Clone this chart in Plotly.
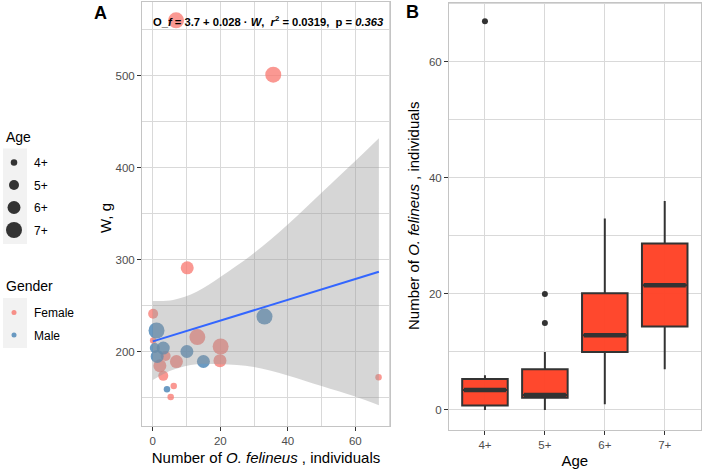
import plotly.graph_objects as go

# ---------------- data (panel A) ----------------
female_x = [0.1, 0.1, 3.8, 2.1, 7.0, 3.1, 13.2, 19.9, 20.1, 6.2, 5.3, 66.9, 6.9, 35.7, 10.2]
female_w = [241, 212, 195, 184.5, 189, 173.5, 215.7, 190, 205.4, 162.5, 150.4, 172, 560, 501, 291]
female_age = ["5+", "4+", "5+", "6+", "6+", "5+", "7+", "6+", "7+", "4+", "4+", "4+", "7+", "7+", "6+"]

male_x = [1.1, 0.6, 3.1, 1.3, 10.1, 15.0, 4.2, 33.1]
male_w = [222.8, 203.7, 203.7, 194.6, 200, 189.1, 159, 238]
male_age = ["7+", "5+", "6+", "6+", "6+", "6+", "4+", "7+"]

band_x = [0, 6, 13, 20, 30, 40, 50, 60, 67]
band_lo = [169, 180, 186, 186, 183, 174, 162.5, 151, 141.5]
band_hi = [255, 256, 265, 281, 307, 338, 372.5, 407, 431.8]

smooth_x = [0, 67]
smooth_w = [211, 286.7]

# ---------------- data (panel B) ----------------
ages = ["4+", "5+", "6+", "7+"]
box_q1 = [0.75, 2.1, 10.0, 14.4]
box_med = [3.45, 2.6, 12.9, 21.5]
box_q3 = [5.35, 7.0, 20.1, 28.7]
box_lo = [0, 0, 1, 7]
box_hi = [6, 10, 33, 36]
out_age = ["4+", "5+", "5+"]
out_val = [67, 20, 15]

# ---------------- styling ----------------
FONT = "Liberation Sans, Arial, sans-serif"
size_map = {"4+": 6.5, "5+": 10, "6+": 13, "7+": 16}
FEMALE = "#F8766D"
MALE = "#4682B4"
GRID = "#D9D9D9"
BORDER = "#C4C4C4"
TICKC = "#4D4D4D"
W_PX, H_PX = 703, 472

fig = go.Figure()

# points (panel A)
fig.add_trace(go.Scatter(
    x=female_x, y=female_w, mode="markers", showlegend=False,
    marker=dict(color=FEMALE, size=[size_map[a] for a in female_age], opacity=0.75, line=dict(width=0)),
    xaxis="x", yaxis="y"))
fig.add_trace(go.Scatter(
    x=male_x, y=male_w, mode="markers", showlegend=False,
    marker=dict(color=MALE, size=[size_map[a] for a in male_age], opacity=0.8, line=dict(width=0)),
    xaxis="x", yaxis="y"))

# confidence band + smooth line
fig.add_trace(go.Scatter(x=band_x, y=band_lo, mode="lines", line=dict(width=0, shape="spline"),
                         showlegend=False, hoverinfo="skip", xaxis="x", yaxis="y"))
fig.add_trace(go.Scatter(x=band_x, y=band_hi, mode="lines", line=dict(width=0, shape="spline"), fill="tonexty",
                         fillcolor="rgba(153,153,153,0.4)", showlegend=False, hoverinfo="skip",
                         xaxis="x", yaxis="y"))
fig.add_trace(go.Scatter(x=smooth_x, y=smooth_w, mode="lines", line=dict(color="#3366FF", width=2),
                         showlegend=False, xaxis="x", yaxis="y"))

# legend dummies: Age
for a in ages:
    fig.add_trace(go.Scatter(x=[None], y=[None], mode="markers", name=a, legend="legend",
                             legendgroup="age" + a,
                             marker=dict(color="#333333", size=size_map[a]), xaxis="x", yaxis="y"))
# legend dummies: Gender
fig.add_trace(go.Scatter(x=[None], y=[None], mode="markers", name="Female", legend="legend2",
                         legendgroup="gf", marker=dict(color=FEMALE, size=5, opacity=0.8), xaxis="x", yaxis="y"))
fig.add_trace(go.Scatter(x=[None], y=[None], mode="markers", name="Male", legend="legend2",
                         legendgroup="gm", marker=dict(color=MALE, size=5, opacity=0.8), xaxis="x", yaxis="y"))

# boxes (panel B)
fig.add_trace(go.Box(
    x=ages, q1=box_q1, median=box_med, q3=box_q3, lowerfence=box_lo, upperfence=box_hi,
    boxpoints=False, whiskerwidth=0, fillcolor="rgba(255,66,38,0.97)",
    line=dict(color="#333333", width=2), showlegend=False, xaxis="x2", yaxis="y2"))
# thicker median bars
fig.add_trace(go.Scatter(
    x=ages, y=box_med, mode="markers", showlegend=False, hoverinfo="skip",
    marker=dict(symbol="line-ew", size=30, line=dict(color="#333333", width=4.5)),
    xaxis="x2", yaxis="y2"))
# outliers
fig.add_trace(go.Scatter(
    x=out_age, y=out_val, mode="markers", showlegend=False,
    marker=dict(color="#333333", size=6), xaxis="x2", yaxis="y2"))

axis_common = dict(showline=True, mirror=True, linecolor=BORDER, linewidth=1,
                   gridcolor=GRID, gridwidth=1, zeroline=False,
                   ticks="outside", ticklen=4, tickcolor="#333333", tickwidth=1,
                   tickfont=dict(family=FONT, size=11.5, color=TICKC))

title_x = "Number of <i>O. felineus</i> , individuals"


def px_x(p):
    return p / W_PX


def px_y(p):
    return 1 - p / H_PX


# legend key backgrounds
shapes = [
    dict(type="rect", xref="paper", yref="paper", layer="below",
         x0=px_x(3), x1=px_x(27), y0=px_y(244), y1=px_y(148.5),
         fillcolor="#F2F2F2", line=dict(width=0)),
    dict(type="rect", xref="paper", yref="paper", layer="below",
         x0=px_x(3), x1=px_x(27), y0=px_y(348), y1=px_y(298),
         fillcolor="#F2F2F2", line=dict(width=0)),
]

fig.update_layout(
    width=W_PX, height=H_PX, autosize=False,
    margin=dict(l=0, r=0, t=0, b=0),
    paper_bgcolor="white", plot_bgcolor="white",
    font=dict(family=FONT, color="#000000"),
    xaxis=dict(domain=[0.2020, 0.5548], range=[-3.2, 70.3], anchor="y",
               tickvals=[0, 20, 40, 60],
               minor=dict(tickvals=[10, 30, 50, 70], showgrid=True, gridcolor=GRID, ticklen=0),
               title=dict(text=title_x, font=dict(family=FONT, size=15, color="#000000"), standoff=6),
               **axis_common),
    yaxis=dict(domain=[0.0975, 0.9958], range=[119, 580], anchor="x",
               tickvals=[200, 300, 400, 500],
               minor=dict(tickvals=[150, 250, 350, 450, 550], showgrid=True, gridcolor=GRID, ticklen=0),
               **axis_common),
    xaxis2=dict(domain=[0.6387, 0.9967], type="category", categoryorder="array", categoryarray=ages,
                range=[-0.6, 3.6], anchor="y2",
                title=dict(text="Age", font=dict(family=FONT, size=15, color="#000000"), standoff=5),
                **axis_common),
    yaxis2=dict(domain=[0.089, 0.9943], range=[-3.45, 70.2], anchor="x2",
                tickvals=[0, 20, 40, 60],
                minor=dict(tickvals=[10, 30, 50, 70], showgrid=True, gridcolor=GRID, ticklen=0),
                **axis_common),
    boxgap=0.24, boxgroupgap=0,
    legend=dict(x=0, y=px_y(148), xanchor="left", yanchor="top", bgcolor="rgba(0,0,0,0)",
                font=dict(family=FONT, size=12), tracegroupgap=3.5, itemsizing="trace",
                indentation=-6),
    legend2=dict(x=0, y=px_y(298), xanchor="left", yanchor="top", bgcolor="rgba(0,0,0,0)",
                 font=dict(family=FONT, size=12), tracegroupgap=3.5, itemsizing="trace",
                 indentation=-6),
    shapes=shapes,
    annotations=[
        dict(text="Age", xref="paper", yref="paper", x=px_x(4), y=px_y(137), xanchor="left", yanchor="middle",
             showarrow=False, font=dict(family=FONT, size=14, color="#000000")),
        dict(text="Gender", xref="paper", yref="paper", x=px_x(4), y=px_y(286), xanchor="left",
             yanchor="middle", showarrow=False, font=dict(family=FONT, size=14, color="#000000")),
        dict(text="W, g", xref="paper", yref="paper", x=px_x(105), y=px_y(218), xanchor="center",
             yanchor="middle", textangle=-90, showarrow=False,
             font=dict(family=FONT, size=15, color="#000000")),
        dict(text=title_x, xref="paper", yref="paper", x=px_x(413), y=px_y(216), xanchor="center",
             yanchor="middle", textangle=-90, showarrow=False,
             font=dict(family=FONT, size=15, color="#000000")),
        dict(text="<b>O_<i>f</i> = 3.7 + 0.028 · <i>W</i>,  <i>r</i><sup>2</sup> = 0.0319,  p = <i>0.363</i></b>",
             xref="paper", yref="paper", x=px_x(386), y=px_y(21), xanchor="right", yanchor="middle",
             showarrow=False, font=dict(family=FONT, size=11.2, color="#000000")),
        dict(text="<b>A</b>", xref="paper", yref="paper", x=px_x(92), y=px_y(13), xanchor="left",
             yanchor="middle", showarrow=False, font=dict(family=FONT, size=18, color="#000000")),
        dict(text="<b>B</b>", xref="paper", yref="paper", x=px_x(404), y=px_y(12), xanchor="left",
             yanchor="middle", showarrow=False, font=dict(family=FONT, size=18, color="#000000")),
    ],
)

fig.write_html("out.html", config={"displayModeBar": False},
               post_script="document.body.style.margin='0';document.body.style.padding='0';")
